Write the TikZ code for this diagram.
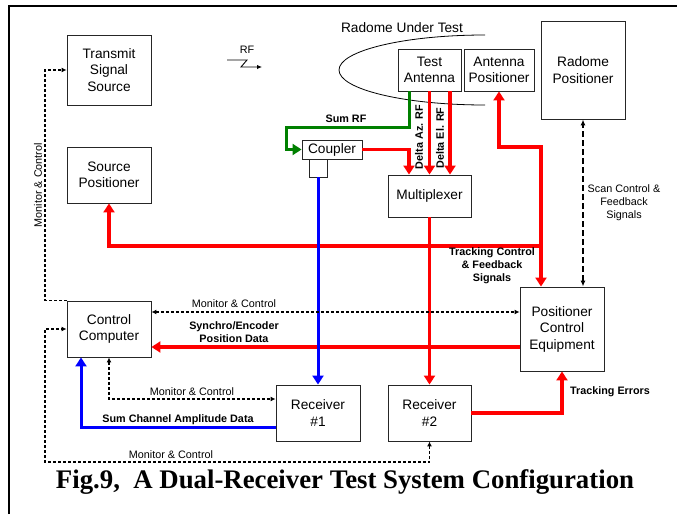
\documentclass[tikz,border=0pt]{standalone}
\usepackage{fontspec}
\setmainfont{Liberation Sans}
\newfontfamily\titlefont{Liberation Serif}
\usetikzlibrary{arrows.meta,calc}
\begin{document}
\begin{tikzpicture}[x=1pt,y=-1pt,
  box/.style={draw=black!85, line width=0.9pt, fill=white, align=center, inner sep=0pt,
    font=\fontsize{13.7}{16.5}\selectfont},
  lbl/.style={font=\fontsize{10.8}{13}\selectfont, inner sep=0pt, align=center},
  blbl/.style={font=\bfseries\fontsize{10.8}{13}\selectfont, inner sep=0pt, align=center},
  thickred/.style={draw=red, line width=3.2pt, -{Triangle[length=9pt,width=11pt]}},
  thickblue/.style={draw=blue, line width=3pt, -{Triangle[length=9pt,width=11pt]}},
  thickgreen/.style={draw=green!50!black, line width=3pt, -{Triangle[length=9pt,width=11pt]}},
  ctrl/.style={draw=black, line width=1.3pt, dash pattern=on 3pt off 2pt, {Latex[length=5pt,width=5pt]}-{Latex[length=5pt,width=5pt]}},
  ctrlone/.style={draw=black, line width=1.3pt, dash pattern=on 3pt off 2pt, -{Latex[length=5pt,width=5pt]}},
  scanline/.style={draw=black, line width=1.6pt, dash pattern=on 6pt off 3pt, {Latex[length=6pt,width=5pt]}-{Latex[length=6pt,width=5pt]}},
  frameline/.style={draw=black, line width=2pt}
]
\useasboundingbox (0,0) rectangle (677,514);
\fill[white] (0,0) rectangle (677,514);
\draw[frameline] (9,514) -- (9,6) -- (677,6);

% radome
\draw[line width=0.8pt] (485,35) arc[start angle=90, end angle=270, x radius=146pt, y radius=35pt];
\node[font=\fontsize{13.7}{16.5}\selectfont, inner sep=0pt] (rut) at (402,28) {Radome Under Test};

% boxes
\node[box, minimum width=84pt, minimum height=70pt] (tss) at (109,70) {Transmit\\Signal\\Source};
\node[box, minimum width=84pt, minimum height=56pt] (sp) at (109,175) {Source\\Positioner};
\node[box, minimum width=84pt, minimum height=56pt] (cc) at (109,329) {Control\\Computer};
\node[box, minimum width=63pt, minimum height=42pt] (ta) at (429.5,70) {Test\\Antenna};
\node[box, minimum width=70pt, minimum height=42pt] (ap) at (499,70) {Antenna\\Positioner};
\node[box, minimum width=84pt, minimum height=98pt] (rp) at (583,70) {Radome\\Positioner};
\node[box, minimum width=60pt, minimum height=19pt] (cp) at (332,149.5) {Coupler};
\node[box, minimum width=18pt, minimum height=18pt] (sb) at (318,168) {};
\node[box, minimum width=83pt, minimum height=42pt] (mux) at (429.5,196) {Multiplexer};
\node[box, minimum width=84pt, minimum height=56pt] (r1) at (318,413) {Receiver\\\#1};
\node[box, minimum width=83pt, minimum height=56pt] (r2) at (429.5,413) {Receiver\\\#2};
\node[box, minimum width=84pt, minimum height=84pt] (pce) at (562,329) {Positioner\\Control\\Equipment};

% RF symbol
\node[lbl] (rf) at (247,50) {RF};
\coordinate (rfa) at (227,60);
\coordinate (rfb) at (262,67);
\draw[line width=0.9pt, -{Latex[length=5pt,width=4.5pt]}] (rfa) -- (247,60) -- (241,67) -- (rfb);

% green sum RF
\coordinate (g1) at (286,127);
\draw[thickgreen] ([xshift=-20.5pt]ta.south) |- (g1) |- (cp.west);
\node[blbl] (sumrf) at (346,119) {Sum RF};

% red RF lines
\draw[thickred] (cp.east) -| ([xshift=-20.5pt]mux.north);
\draw[thickred] (ta.south) -- (mux.north);
\draw[thickred] ([xshift=20.5pt]ta.south) -- ([xshift=20.5pt]mux.north);
\node[blbl, rotate=90] (daz) at (419,137) {Delta Az. RF};
\node[blbl, rotate=90] (del) at (440,138) {Delta El. RF};
\draw[thickred] (mux.south) -- (r2.north);

% tracking control
\coordinate (j1) at (541,246);
\coordinate (j2) at (541,147);
\draw[thickred] (j1) -| (sp.south);
\draw[thickred] (j1) -- (j2) -| (ap.south);
\draw[thickred] (j1) -- ([xshift=-21pt]pce.north);
\node[blbl] (tcl) at (492,266) {Tracking Control\\\& Feedback\\Signals};

% scan control
\draw[scanline] ([xshift=21pt]pce.north) -- (rp.south);
\node[lbl] (scl) at (624,203) {Scan Control \&\\Feedback\\Signals};

% tracking errors
\draw[thickred] (r2.east) -| (pce.south);
\node[blbl] (tel) at (610,392) {Tracking Errors};

% synchro
\draw[thickred] ([yshift=-18pt]pce.west) -- ([yshift=-18pt]cc.east);
\node[blbl] (syn) at (234,332.5) {Synchro/Encoder\\Position Data};

% blue
\draw[thickblue] (sb.south) -- (r1.north);
\draw[thickblue] ([yshift=-14pt]r1.west) -| ([xshift=-28pt]cc.south);
\node[blbl] (scad) at (178,420) {Sum Channel Amplitude Data};

% monitor & control
\draw[ctrl] ([yshift=17pt]cc.east) -- ([yshift=17pt]pce.west);
\node[lbl] (mc1) at (234,304) {Monitor \& Control};
\draw[ctrl] (cc.south) |- ([yshift=14pt]r1.west);
\node[lbl] (mc2) at (192,392) {Monitor \& Control};
\coordinate (dt) at (45,70);
\draw[ctrlone] (cc.north west) -| (dt) -- (tss.west);
\node[lbl, rotate=90] (mc3) at (38,185) {Monitor \& Control};
\coordinate (db) at (45,462);
\draw[ctrl] (r2.south) |- (db) |- (cc.west);
\node[lbl] (mc4) at (171,455) {Monitor \& Control};

% title
\node[font=\titlefont\bfseries\fontsize{26.8}{30}\selectfont, inner sep=0pt] (title) at (345,482) {Fig.9,\ \ A Dual-Receiver Test System Configuration};
\end{tikzpicture}
\end{document}
